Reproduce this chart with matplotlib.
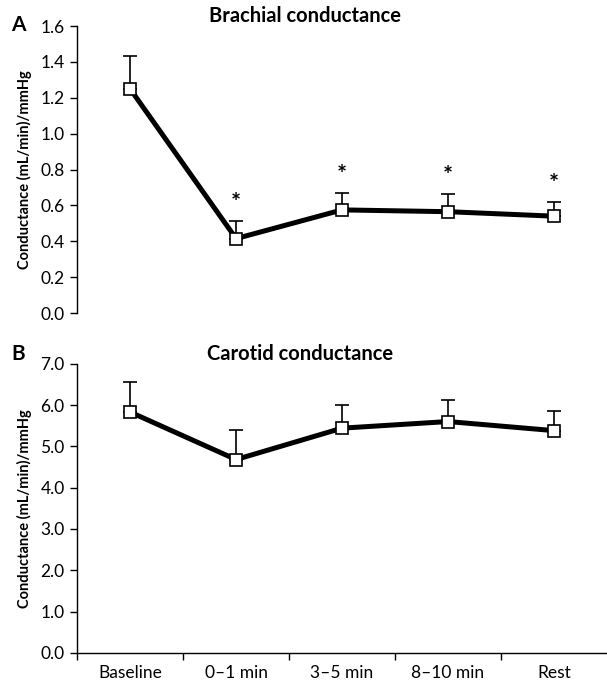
import matplotlib.pyplot as plt
import numpy as np

plt.rcParams['font.family'] = ['Lato', 'DejaVu Sans']

# time points
periods = ["Baseline", "0\u20131 min", "3\u20135 min", "8\u201310 min", "Rest"]

# brachial conductance (mean, upper SD)
brachial_mean = [1.25, 0.415, 0.575, 0.565, 0.54]
brachial_err = [0.185, 0.10, 0.095, 0.10, 0.08]
brachial_sig = [False, True, True, True, True]

# carotid conductance
carotid_mean = [5.83, 4.68, 5.44, 5.60, 5.38]
carotid_err = [0.72, 0.72, 0.55, 0.52, 0.48]

x = np.arange(len(periods))

fig = plt.figure(figsize=(6.07, 6.85), dpi=100)
ax1 = fig.add_axes([0.127, 0.543, 0.873, 0.419])
ax2 = fig.add_axes([0.127, 0.047, 0.873, 0.422])


def draw(ax, mean, err):
    ax.errorbar(x, mean, yerr=[np.zeros(len(mean)), err], fmt='none',
                ecolor='black', elinewidth=1.2, capsize=5, capthick=1.2, zorder=2)
    ax.plot(x, mean, color='black', lw=3.6, marker='s', ms=8.5,
            mfc='white', mec='black', mew=1.2, zorder=3)
    ax.set_xlim(-0.5, 4.5)
    for s in ['top', 'right']:
        ax.spines[s].set_visible(False)
    ax.spines['left'].set_linewidth(1.0)
    ax.tick_params(axis='y', direction='out', length=5, width=1.0, labelsize=12.5, pad=4)
    ax.set_ylabel('Conductance (mL/min)/mmHg', fontsize=10.5, fontweight='bold', labelpad=6)


# A: brachial
draw(ax1, brachial_mean, brachial_err)
ax1.set_ylim(0, 1.6)
ax1.set_yticks(np.arange(0, 1.61, 0.2))
ax1.set_yticklabels([f'{v:.1f}' for v in np.arange(0, 1.61, 0.2)])
ax1.spines['bottom'].set_visible(False)
ax1.set_xticks([])
for i in range(len(periods)):
    if brachial_sig[i]:
        ax1.text(x[i], brachial_mean[i] + brachial_err[i] + 0.03, '*',
                 ha='center', va='bottom', fontsize=17, fontweight='bold')
ax1.set_title('Brachial conductance', fontsize=14.5, fontweight='bold', x=0.43, pad=2)

# B: carotid
draw(ax2, carotid_mean, carotid_err)
ax2.set_ylim(0, 7.0)
ax2.set_yticks(np.arange(0, 7.01, 1.0))
ax2.set_yticklabels([f'{v:.1f}' for v in np.arange(0, 7.01, 1.0)])
ax2.spines['bottom'].set_linewidth(1.0)
ax2.set_xticks(np.arange(-0.5, 4.0, 1.0))
ax2.set_xticklabels([])
ax2.set_xticks(x, minor=True)
ax2.set_xticklabels(periods, minor=True)
ax2.tick_params(axis='x', which='major', direction='out', length=5, width=1.0)
ax2.tick_params(axis='x', which='minor', length=0, labelsize=12.5, pad=9)
ax2.set_title('Carotid conductance', fontsize=14.5, fontweight='bold', x=0.42, pad=2)

fig.text(0.03, 0.964, 'A', fontsize=15, fontweight='bold', ha='center', va='center')
fig.text(0.03, 0.483, 'B', fontsize=15, fontweight='bold', ha='center', va='center')

fig.savefig('out.png', dpi=100)
